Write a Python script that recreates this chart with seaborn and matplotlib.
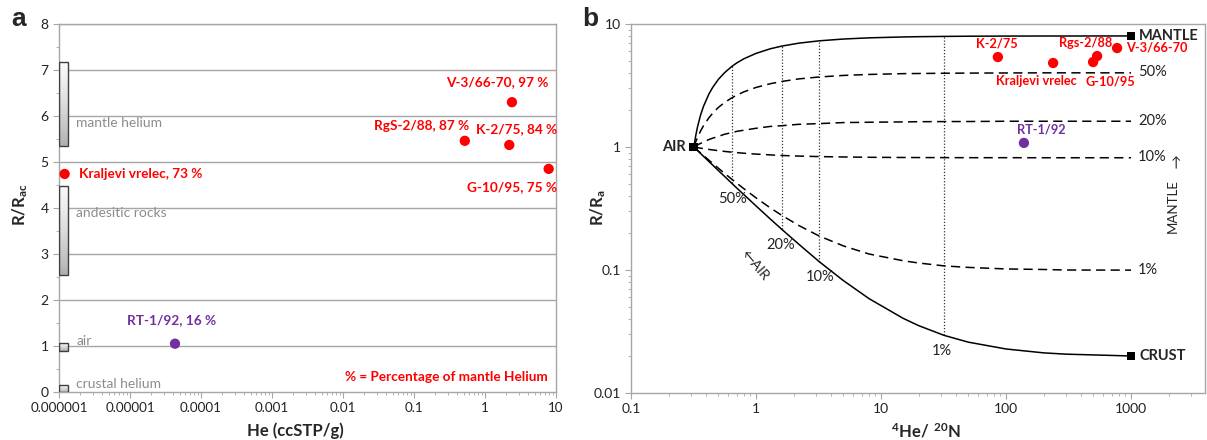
import numpy as np
import pandas as pd
import seaborn as sns
import matplotlib
matplotlib.use("Agg")
from matplotlib import pyplot as plt
from matplotlib.ticker import FixedLocator, FuncFormatter, LogLocator, NullFormatter, MultipleLocator

# ---- panel a: He content vs R/Rac ----
a_names = ["Kraljevi vrelec", "RT-1/92", "V-3/66-70", "RgS-2/88", "K-2/75", "G-10/95"]
a_pct = [73, 16, 97, 87, 84, 75]
a_he = [1.2e-6, 4.3e-5, 2.4, 0.52, 2.2, 7.9]
a_r = [4.74, 1.05, 6.30, 5.46, 5.37, 4.85]
a_group = ["mantle", "crust", "mantle", "mantle", "mantle", "mantle"]

ref_names = ["crustal helium", "air", "andesitic rocks", "mantle helium"]
ref_low = [0.0, 0.90, 2.54, 5.35]
ref_high = [0.15, 1.07, 4.48, 7.17]

# ---- panel b: 4He/20Ne vs R/Ra ----
b_names = ["K-2/75", "Kraljevi vrelec", "G-10/95", "Rgs-2/88", "V-3/66-70", "RT-1/92"]
b_hene = [86, 238, 497, 535, 773, 139]
b_r = [5.39, 4.82, 4.91, 5.49, 6.38, 1.08]
b_group = ["mantle", "mantle", "mantle", "mantle", "mantle", "crust"]

em_names = ["AIR", "MANTLE", "CRUST"]
em_hene = [0.318, 1000, 1000]
em_r = [1.0, 8.0, 0.02]

# mixing curves
mix_x = [0.318, 0.33, 0.34, 0.36, 0.38, 0.42, 0.45, 0.5, 0.56, 0.64, 0.7, 0.8, 1.0, 1.3,
         1.6, 2.2, 3.2, 5, 8, 15, 20, 32, 50, 100, 200, 300, 1000]
mix_mantle = [1.0, 1.25, 1.45, 1.82, 2.14, 2.70, 3.05, 3.55, 4.02, 4.52, 4.82, 5.22, 5.77, 6.29,
              6.61, 6.99, 7.30, 7.55, 7.72, 7.85, 7.89, 7.93, 7.96, 7.98, 7.99, 7.99, 8.0]
mix_50 = [1.0, 1.11, 1.19, 1.35, 1.49, 1.73, 1.88, 2.10, 2.30, 2.51, 2.64, 2.81, 3.05, 3.27,
          3.41, 3.58, 3.71, 3.82, 3.89, 3.95, 3.96, 3.98, 3.99, 4.00, 4.01, 4.01, 4.01]
mix_20 = [1.0, 1.02, 1.04, 1.07, 1.10, 1.15, 1.18, 1.22, 1.27, 1.31, 1.34, 1.37, 1.42, 1.47,
          1.49, 1.53, 1.55, 1.58, 1.59, 1.60, 1.606, 1.61, 1.612, 1.62, 1.62, 1.62, 1.62]
mix_10 = [1.0, 0.993, 0.988, 0.979, 0.970, 0.956, 0.947, 0.934, 0.921, 0.908, 0.901, 0.890,
          0.876, 0.863, 0.854, 0.844, 0.836, 0.830, 0.825, 0.822, 0.821, 0.820, 0.819, 0.819,
          0.818, 0.818, 0.818]
mix_1 = [1.0, 0.967, 0.942, 0.895, 0.853, 0.781, 0.736, 0.672, 0.611, 0.547, 0.509, 0.458,
         0.386, 0.320, 0.279, 0.230, 0.189, 0.157, 0.135, 0.119, 0.114, 0.108, 0.105, 0.102,
         0.101, 0.100, 0.0998]
mix_crust = [1.0, 0.964, 0.937, 0.886, 0.840, 0.762, 0.713, 0.643, 0.577, 0.507, 0.465, 0.410,
             0.332, 0.260, 0.215, 0.162, 0.117, 0.082, 0.0586, 0.0405, 0.0353, 0.0294, 0.0259,
             0.0228, 0.0212, 0.0207, 0.020]

tie_x = [0.64, 1.6, 3.2, 32]
tie_low = [0.507, 0.215, 0.117, 0.0294]
tie_high = [4.52, 6.61, 7.30, 7.93]
tie_labels = ["50%", "20%", "10%", "1%"]

RED = "#ff0000"
PURPLE = "#7030a0"
GRAY = "#a6a6a6"
palette = {"mantle": RED, "crust": PURPLE}

sns.set_style("white")
plt.rcParams["font.family"] = ["Lato", "DejaVu Sans"]
plt.rcParams["mathtext.fontset"] = "custom"
plt.rcParams["mathtext.rm"] = "Lato"
plt.rcParams["mathtext.bf"] = "Lato:bold"

fig = plt.figure(figsize=(12.07, 4.4), dpi=100)
ax1 = fig.add_axes([0.0489, 0.1091, 0.4117, 0.8364])
ax2 = fig.add_axes([0.5228, 0.1068, 0.4755, 0.8386])

for ax in (ax1, ax2):
    for s in ax.spines.values():
        s.set_color(GRAY)
        s.set_linewidth(1.0)
    ax.tick_params(which="both", direction="out", color=GRAY, labelsize=10,
                   labelcolor="#222222", left=True, bottom=True)
    ax.tick_params(which="major", length=4)
    ax.tick_params(which="minor", length=2.5)
ax1.tick_params(axis="x", labelsize=9.6)

# ---------------- panel a ----------------
ax1.set_xscale("log")
ax1.set_xlim(1e-6, 10)
ax1.set_ylim(0, 8)
for yv in range(1, 9):
    ax1.axhline(yv, color=GRAY, lw=1.0, zorder=0)

# reference ranges as shaded bars (light top, darker bottom)
bar_left, bar_right = 1.0e-6, 1.34e-6
for lo, hi in zip(ref_low, ref_high):
    edges = np.linspace(lo, hi, 30)
    shades = plt.cm.Greys(np.linspace(0.42, 0.06, 29))
    for k in range(29):
        ax1.bar(bar_left, edges[k + 1] - edges[k], bottom=edges[k], width=bar_right - bar_left,
                align="edge", color=shades[k], lw=0, zorder=2)
    ax1.bar(bar_left, hi - lo, bottom=lo, width=bar_right - bar_left, align="edge",
            facecolor="none", edgecolor="#404040", lw=1.0, zorder=3)

ref_text_y = [0.17, 1.10, 3.90, 5.85]
for name, ty in zip(ref_names, ref_text_y):
    ax1.text(1.75e-6, ty, name, color="#8c8c8c", fontsize=10, va="center", ha="left")

dfa = pd.DataFrame({"he": a_he, "r": a_r, "group": a_group, "name": a_names, "pct": a_pct})
sns.scatterplot(data=dfa, x="he", y="r", hue="group", palette=palette, s=55,
                edgecolor="none", legend=False, ax=ax1, zorder=5, clip_on=False)

a_lab_pos = {
    "Kraljevi vrelec": (1.9e-6, 4.74, "left"),
    "RT-1/92": (3.9e-5, 1.57, "center"),
    "V-3/66-70": (7.9, 6.74, "right"),
    "RgS-2/88": (0.59, 5.78, "right"),
    "K-2/75": (10.3, 5.72, "right"),
    "G-10/95": (10.3, 4.46, "right"),
}
for name, pct, grp in zip(a_names, a_pct, a_group):
    lx, ly, ha = a_lab_pos[name]
    ax1.text(lx, ly, f"{name}, {pct} %", color=palette[grp], fontweight="bold",
             fontsize=9.8, ha=ha, va="center")
ax1.text(0.29, 0.33, "% = Percentage of mantle Helium", color=RED, fontweight="bold",
         fontsize=9.8, ha="center", va="center")

ax1.xaxis.set_major_locator(FixedLocator([1e-6, 1e-5, 1e-4, 1e-3, 1e-2, 1e-1, 1, 10]))
ax1.xaxis.set_minor_locator(LogLocator(base=10, subs=np.arange(2, 10), numticks=12))
ax1.xaxis.set_minor_formatter(NullFormatter())
ax1.xaxis.set_major_formatter(FuncFormatter(
    lambda v, p: f"{v:.{max(0, -int(round(np.log10(v))))}f}"))
ax1.yaxis.set_major_locator(MultipleLocator(1))
ax1.yaxis.set_minor_locator(MultipleLocator(0.5))
ax1.set_xlabel("")
ax1.set_ylabel("")

# ---------------- panel b ----------------
ax2.set_xscale("log")
ax2.set_yscale("log")
ax2.set_xlim(0.1, 3900)
ax2.set_ylim(0.01, 10)

curves = [(mix_mantle, "-"), (mix_50, "--"), (mix_20, "--"),
          (mix_10, "--"), (mix_1, "--"), (mix_crust, "-")]
for yy, ls in curves:
    dfc = pd.DataFrame({"x": mix_x, "y": yy})
    sns.lineplot(data=dfc, x="x", y="y", sort=False, estimator=None, color="black",
                 lw=1.1, ax=ax2, zorder=3)
    ln = ax2.lines[-1]
    if ls == "--":
        ln.set_dashes((6, 3.5))

for tx, lo, hi in zip(tie_x, tie_low, tie_high):
    ax2.vlines(tx, lo, hi, colors="#333333", linestyles=(0, (1, 1.5)), lw=0.9, zorder=2)

dfb = pd.DataFrame({"x": b_hene, "y": b_r, "group": b_group})
sns.scatterplot(data=dfb, x="x", y="y", hue="group", palette=palette, s=55,
                edgecolor="none", legend=False, ax=ax2, zorder=5)
dfe = pd.DataFrame({"x": em_hene, "y": em_r})
sns.scatterplot(data=dfe, x="x", y="y", marker="s", color="black", s=40,
                edgecolor="none", legend=False, ax=ax2, zorder=6)

ax2.text(0.275, 1.0, "AIR", fontweight="bold", fontsize=10.5, ha="right", va="center")
ax2.text(1160, 8.0, "MANTLE", fontweight="bold", fontsize=10.5, ha="left", va="center")
ax2.text(1160, 0.02, "CRUST", fontweight="bold", fontsize=10.5, ha="left", va="center")

b_lab_pos = {
    "K-2/75": (85, 7.0, "center"),
    "Rgs-2/88": (436, 7.0, "center"),
    "V-3/66-70": (912, 6.45, "left"),
    "Kraljevi vrelec": (174, 3.44, "center"),
    "G-10/95": (679, 3.44, "center"),
    "RT-1/92": (191, 1.40, "center"),
}
for name, grp in zip(b_names, b_group):
    lx, ly, ha = b_lab_pos[name]
    ax2.text(lx, ly, name, color=palette[grp], fontweight="bold", fontsize=9.2,
             ha=ha, va="center")

for lab, yv in zip(["50%", "20%", "10%", "1%"], [4.07, 1.63, 0.83, 0.10]):
    ax2.text(1140, yv, lab, fontsize=10.5, ha="left", va="center", color="#222222")

for lab, lx, ly in zip(tie_labels, [0.643, 1.58, 3.25, 30.8], [0.378, 0.159, 0.0877, 0.0219]):
    ax2.text(lx, ly, lab, fontsize=10.5, ha="center", va="center", color="#222222")

ax2.text(0.98, 0.11, "\u2190AIR", fontsize=10, rotation=-50, ha="center", va="center",
         rotation_mode="anchor", color="#222222")
ax2.text(2290, 0.74, "\u2191", fontsize=10, ha="center", va="center", color="#222222")
ax2.text(2168, 0.33, "MANTLE", fontsize=9.5, rotation=90, ha="center", va="center",
         color="#222222")

ax2.xaxis.set_major_locator(FixedLocator([0.1, 1, 10, 100, 1000]))
ax2.xaxis.set_minor_locator(LogLocator(base=10, subs=np.arange(2, 10), numticks=12))
ax2.xaxis.set_minor_formatter(NullFormatter())
ax2.xaxis.set_major_formatter(FuncFormatter(lambda v, p: f"{v:g}"))
ax2.yaxis.set_major_locator(FixedLocator([0.01, 0.1, 1, 10]))
ax2.yaxis.set_minor_locator(LogLocator(base=10, subs=np.arange(2, 10), numticks=12))
ax2.yaxis.set_minor_formatter(NullFormatter())
ax2.yaxis.set_major_formatter(FuncFormatter(lambda v, p: f"{v:g}"))
ax2.set_xlabel("")
ax2.set_ylabel("")

# axis titles and panel letters
fig.text(20 / 1207, 1 - 205 / 440, r"$\mathbf{R/R_{ac}}$", rotation=90, fontsize=12,
         ha="center", va="center")
fig.text(295 / 1207, 1 - 431 / 440, "He (ccSTP/g)", fontweight="bold", fontsize=12,
         ha="center", va="center")
fig.text(598 / 1207, 1 - 208 / 440, r"$\mathbf{R/R_{a}}$", rotation=90, fontsize=12,
         ha="center", va="center")
fig.text(926 / 1207, 1 - 431 / 440, r"$\mathbf{{}^{4}He/\ {}^{20}N}$", fontsize=12,
         ha="center", va="center")
fig.text(19 / 1207, 1 - 19 / 440, "a", fontweight="bold", fontsize=19, ha="center", va="center",
         family=["Liberation Sans", "DejaVu Sans"])
fig.text(590 / 1207, 1 - 19 / 440, "b", fontweight="bold", fontsize=19, ha="center", va="center",
         family=["Liberation Sans", "DejaVu Sans"])

fig.savefig("out.png", dpi=100)
